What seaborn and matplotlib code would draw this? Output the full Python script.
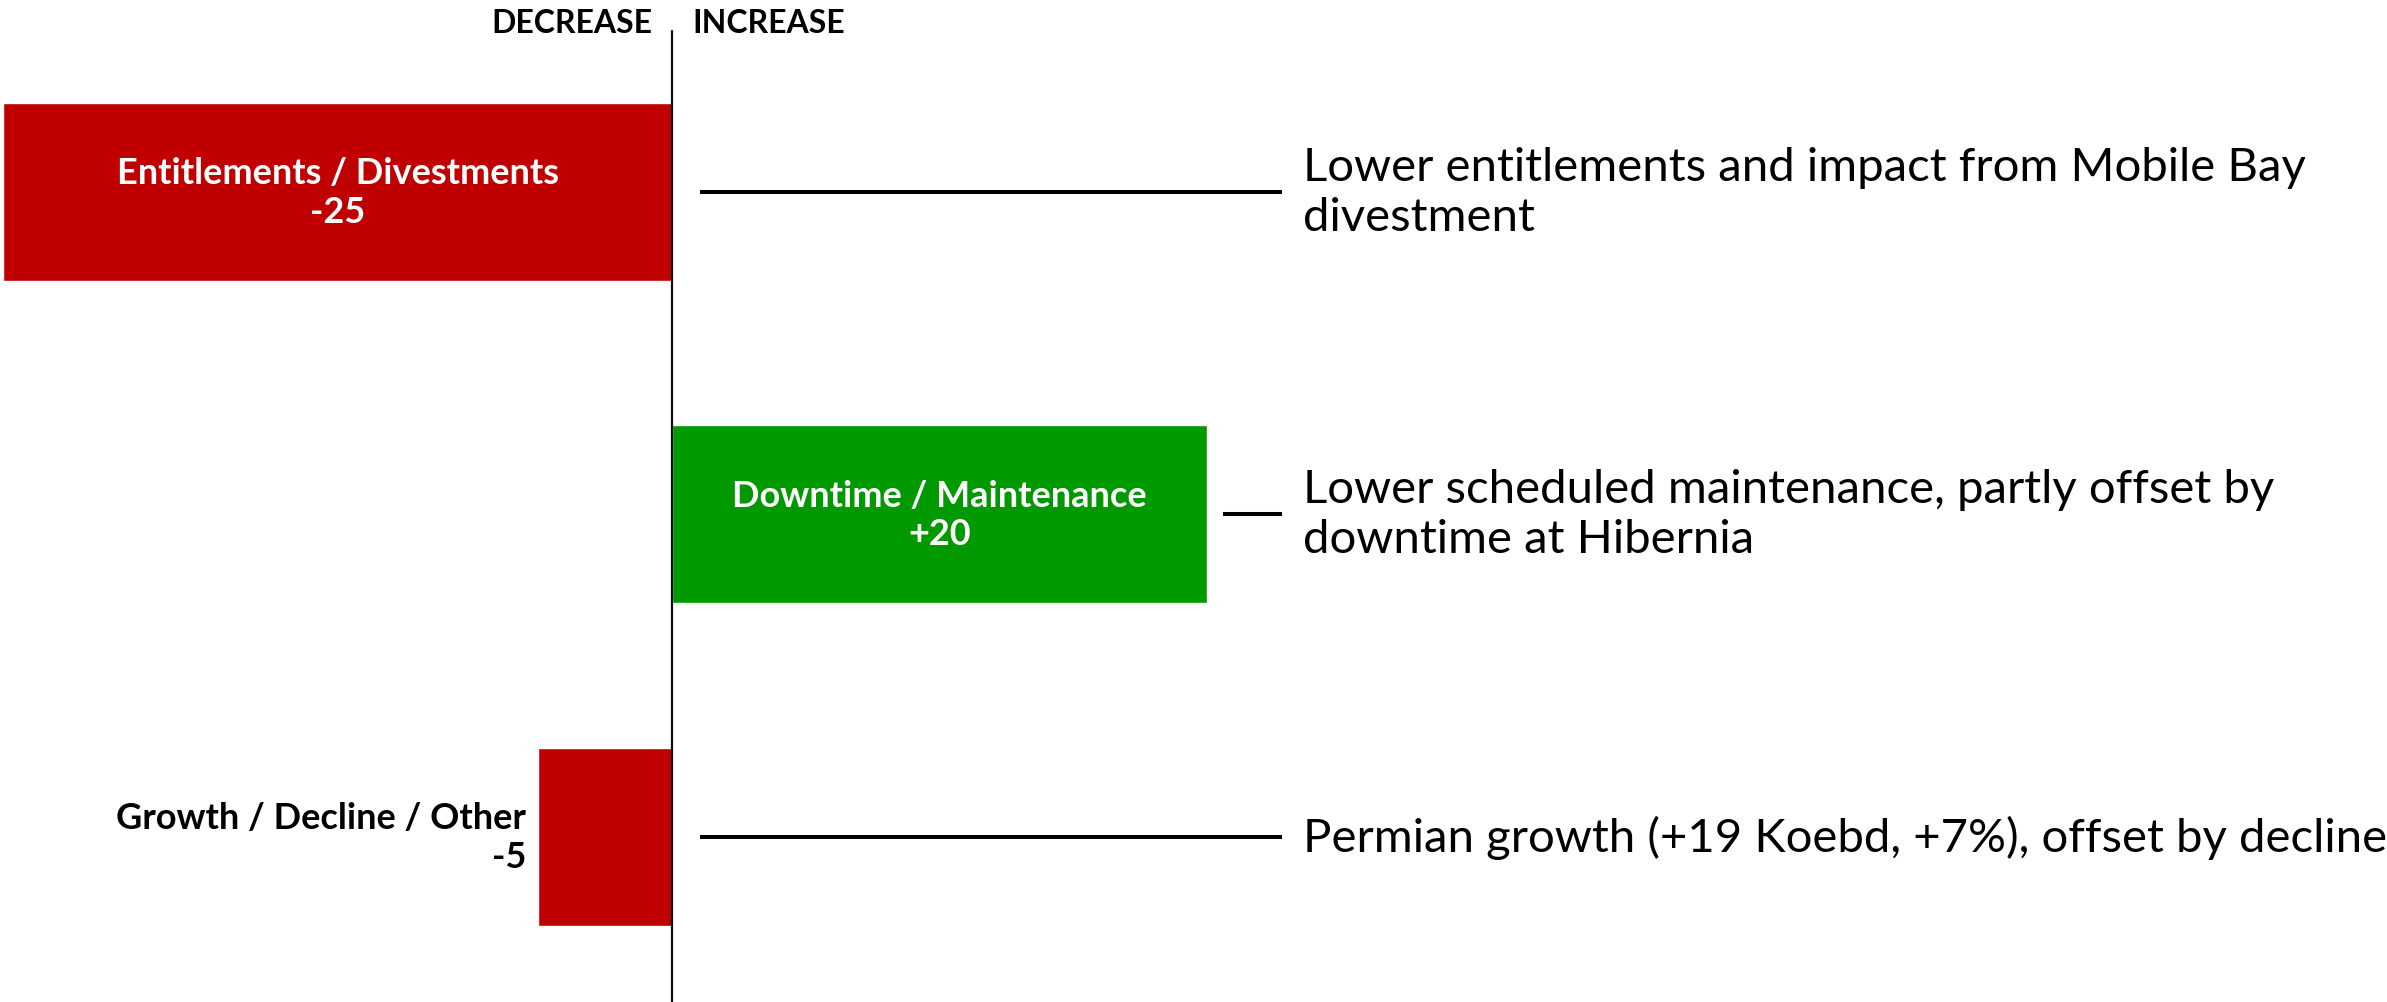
import matplotlib
matplotlib.use('Agg')
import pandas as pd
import matplotlib.pyplot as plt
import seaborn as sns

# chart data
categories = ['Entitlements / Divestments', 'Downtime / Maintenance', 'Growth / Decline / Other']
values = [-25, 20, -5]
value_labels = ['-25', '+20', '-5']
notes = ['Lower entitlements and impact from Mobile Bay\ndivestment',
         'Lower scheduled maintenance, partly offset by\ndowntime at Hibernia',
         'Permian growth (+19 Koebd, +7%), offset by decline']

RED = '#C00000'
GREEN = '#009A00'


def main():
    sns.set_style('white')
    plt.rcParams['font.family'] = ['Lato', 'DejaVu Sans']

    df = pd.DataFrame({'category': categories, 'value': values})
    colors = [GREEN if v > 0 else RED for v in values]

    fig = plt.figure(figsize=(23.87, 10.03), dpi=100)
    ax = fig.add_axes([0, 0, 1, 1])
    sns.barplot(data=df, x='value', y='category', hue='category', palette=colors,
                orient='h', width=0.552, saturation=1, legend=False, ax=ax)

    ax.set_xlim(-25.12, 64.11)
    ax.set_ylim(2.512, -0.598)
    ax.axis('off')

    # zero line with headers
    ax.axvline(0, ymin=0, ymax=0.968, color='#111111', lw=1.6)
    ax.text(-0.75, -0.525, 'DECREASE', ha='right', va='center', fontsize=23,
            fontweight='bold', color='black')
    ax.text(0.75, -0.525, 'INCREASE', ha='left', va='center', fontsize=23,
            fontweight='bold', color='black')

    text_x = 23.59
    line_end = 22.8
    for i, (cat, v, vl, note) in enumerate(zip(categories, values, value_labels, notes)):
        label = cat + '\n' + vl
        if abs(v) >= 10:
            ax.text(v / 2, i, label, ha='center', va='center', fontsize=26,
                    fontweight='bold', color='white', linespacing=1.2)
        else:
            ax.text(v - 0.45, i, label, ha='right', va='center', fontsize=26,
                    fontweight='bold', color='black', linespacing=1.2,
                    multialignment='right')
        start = max(v, 0) + (0.6 if v > 0 else 1.05)
        ax.plot([start, line_end], [i, i], color='black', lw=2.9, solid_capstyle='butt')
        ax.text(text_x, i, note, ha='left', va='center', fontsize=34,
                color='black', linespacing=1.24)

    fig.savefig('out.png', dpi=100)
    print('I created a figure!')


if __name__ == '__main__':
    main()
